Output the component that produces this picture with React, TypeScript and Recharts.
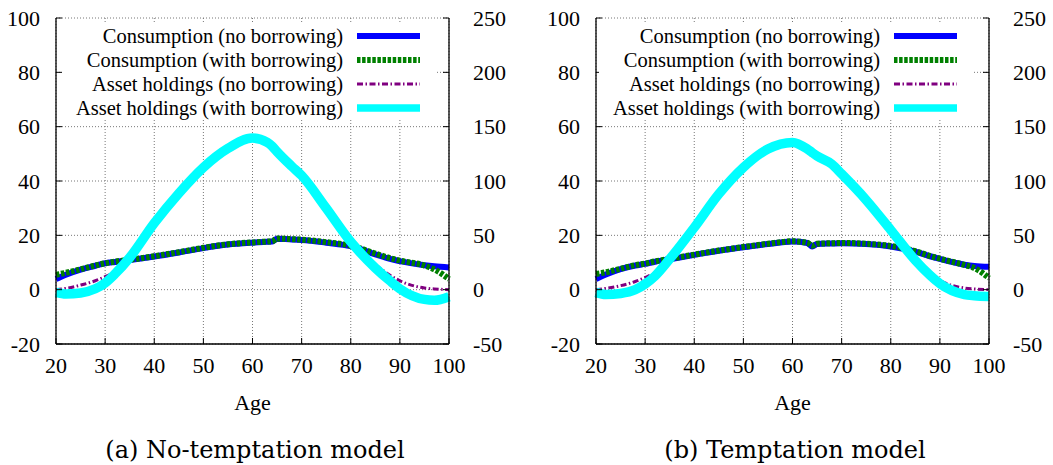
import React from 'react';
import { LineChart, Line, XAxis, YAxis, CartesianGrid, Legend } from 'recharts';

const AGES = [20, 22, 25, 28, 30, 32, 35, 40, 45, 50, 55, 60, 63, 64, 65, 68, 70, 75, 80, 85, 88, 90, 95, 97, 100];

// (a) no-temptation model
const CONS_NO_BORROW_A = [3.9, 5.5, 7.4, 8.8, 9.7, 10.2, 10.9, 12.2, 13.7, 15.3, 16.6, 17.3, 17.6, 17.7, 18.7, 18.5, 18.3, 17.3, 16.0, 13.0, 11.3, 10.5, 9.0, 8.6, 8.2];
const CONS_BORROW_A = [5.5, 6.2, 7.5, 8.9, 9.7, 10.3, 11.0, 12.3, 13.8, 15.4, 16.7, 17.4, 17.7, 17.8, 18.8, 18.6, 18.4, 17.5, 16.2, 13.3, 11.6, 10.7, 8.9, 7.5, 3.9];
const ASSET_NO_BORROW_A = [0, 1.2, 4.2, 8.2, 12, 16.5, 29.5, 61.2, 88.7, 112.5, 130, 139.5, 135.5, 132, 127, 113.5, 105, 75, 44, 23.2, 13.2, 8.2, 1.5, 0.7, 0];
const ASSET_BORROW_A = [-2.5, -4, -3, 0.8, 6.2, 14.5, 29.5, 61.2, 88.7, 112.5, 130, 139.5, 135.5, 132, 127, 113.5, 105, 75, 44, 20, 8, 0.8, -9, -9.8, -6.5];

// (b) temptation model
const CONS_NO_BORROW_B = [3.9, 5.6, 7.6, 8.9, 9.5, 10.3, 11.2, 12.8, 14.3, 15.6, 16.8, 17.7, 17.2, 15.9, 16.8, 17.0, 17.1, 16.8, 15.9, 14.0, 12.3, 11.3, 9.2, 8.7, 8.4];
const CONS_BORROW_B = [5.8, 6.4, 7.7, 9.0, 9.6, 10.4, 11.3, 12.9, 14.4, 15.7, 16.9, 17.8, 17.3, 16.2, 16.9, 17.1, 17.2, 16.9, 16.1, 14.2, 12.4, 11.4, 9.1, 8.0, 4.3];
const ASSET_NO_BORROW_B = [0, 1.2, 3.7, 7.5, 11.2, 15.5, 28.7, 57.2, 88, 112.5, 129.5, 135.5, 129.5, 126.2, 123, 115.5, 106.5, 82.5, 55, 27, 15, 8.7, 1.5, 0.7, 0];
const ASSET_BORROW_B = [-2.5, -4.5, -3.5, 0, 5.2, 12.5, 28.2, 57.2, 88, 112.5, 129.5, 135.5, 129.5, 126.2, 123, 115.5, 106.5, 82.5, 55, 27, 13.2, 5.5, -4.5, -5.5, -6.2];

const X_TICKS = [20, 30, 40, 50, 60, 70, 80, 90, 100];
const LEFT_TICKS = [-20, 0, 20, 40, 60, 80, 100];
const RIGHT_TICKS = [-50, 0, 50, 100, 150, 200, 250];

const SERIES_NAMES = [
  'Consumption (no borrowing)',
  'Consumption (with borrowing)',
  'Asset holdings (no borrowing)',
  'Asset holdings (with borrowing)',
];

const FONT = '"Liberation Serif", "Times New Roman", serif';
const STYLES = [
  { stroke: '#0000ff', width: 6, dash: undefined },
  { stroke: '#008000', width: 6, dash: '3.5 1.6' },
  { stroke: '#800080', width: 3, dash: '6 2.5 1.5 2.5' },
  { stroke: '#00ffff', width: 9.5, dash: undefined },
];

const LegendBox = () => (
  <div style={{ background: '#fff', width: 373, height: 94, position: 'relative', fontFamily: FONT, fontSize: 20.5 }}>
    {SERIES_NAMES.map((name, i) => (
      <div key={name} style={{ position: 'absolute', top: i * 24, left: 0, height: 24, width: 373 }}>
        <span style={{ position: 'absolute', right: 373 - 281, lineHeight: '24px', whiteSpace: 'nowrap', color: '#000' }}>
          {name}
        </span>
        <svg width={64} height={24} style={{ position: 'absolute', left: 295, top: 0 }}>
          <line
            x1={0}
            x2={63}
            y1={12}
            y2={12}
            stroke={STYLES[i].stroke}
            strokeWidth={i === 3 ? 7.5 : STYLES[i].width}
            strokeDasharray={STYLES[i].dash}
          />
        </svg>
      </div>
    ))}
  </div>
);

type PanelProps = {
  left: number;
  legendLeft: number;
  caption: string;
  consNo: number[];
  consWith: number[];
  assetNo: number[];
  assetWith: number[];
};

const Panel = ({ left, legendLeft, caption, consNo, consWith, assetNo, assetWith }: PanelProps) => {
  const data = AGES.map((age, i) => ({
    age,
    consNo: consNo[i],
    consWith: consWith[i],
    assetNo: assetNo[i],
    assetWith: assetWith[i],
  }));
  const tickStyle = { fill: '#000', fontSize: 22, fontFamily: FONT };
  return (
    <div style={{ position: 'absolute', left, top: 0 }}>
      <LineChart width={530} height={420} data={data} margin={{ top: 18, right: 0, bottom: 0, left: 0 }}>
        <CartesianGrid yAxisId="left" stroke="#777" strokeDasharray="1 2" />
        <XAxis
          dataKey="age"
          type="number"
          domain={[20, 100]}
          ticks={X_TICKS}
          interval={0}
          height={76}
          tickSize={-6}
          tickMargin={19}
          tick={tickStyle}
          axisLine={{ stroke: '#000', strokeWidth: 1.3 }}
          tickLine={{ stroke: '#000' }}
          label={{ value: 'Age', position: 'insideBottom', offset: 10, fill: '#000', fontSize: 22, fontFamily: FONT }}
        />
        <XAxis
          xAxisId="top"
          orientation="top"
          dataKey="age"
          type="number"
          domain={[20, 100]}
          ticks={X_TICKS}
          height={0}
          tickSize={-6}
          tick={false}
          axisLine={{ stroke: '#000', strokeWidth: 1.3 }}
          tickLine={{ stroke: '#000' }}
        />
        <YAxis
          yAxisId="left"
          type="number"
          domain={[-20, 100]}
          ticks={LEFT_TICKS}
          interval={0}
          width={56}
          tickSize={-6}
          tickMargin={22}
          tick={tickStyle}
          axisLine={{ stroke: '#000', strokeWidth: 1.3 }}
          tickLine={{ stroke: '#000' }}
        />
        <YAxis
          yAxisId="right"
          orientation="right"
          type="number"
          domain={[-50, 250]}
          ticks={RIGHT_TICKS}
          interval={0}
          width={81}
          tickSize={-6}
          tickMargin={30}
          tick={{ ...tickStyle, textAnchor: 'start' }}
          axisLine={{ stroke: '#000', strokeWidth: 1.3 }}
          tickLine={{ stroke: '#000' }}
        />
        <Line yAxisId="left" dataKey="consNo" type="monotone" stroke={STYLES[0].stroke} strokeWidth={STYLES[0].width} dot={false} activeDot={false} isAnimationActive={false} />
        <Line yAxisId="left" dataKey="consWith" type="monotone" stroke={STYLES[1].stroke} strokeWidth={STYLES[1].width} strokeDasharray={STYLES[1].dash} dot={false} activeDot={false} isAnimationActive={false} />
        <Line yAxisId="right" dataKey="assetNo" type="monotone" stroke={STYLES[2].stroke} strokeWidth={STYLES[2].width} strokeDasharray={STYLES[2].dash} dot={false} activeDot={false} isAnimationActive={false} />
        <Line yAxisId="right" dataKey="assetWith" type="monotone" stroke={STYLES[3].stroke} strokeWidth={STYLES[3].width} dot={false} activeDot={false} isAnimationActive={false} />
        <Legend
          layout="horizontal"
          verticalAlign="middle"
          align="center"
          wrapperStyle={{ position: 'absolute', left: legendLeft, top: 24, width: 373, height: 94 }}
          content={() => <LegendBox />}
        />
      </LineChart>
      <div
        style={{
          position: 'absolute',
          left: 0,
          width: 510,
          top: 438,
          textAlign: 'center',
          fontFamily: '"DejaVu Serif", serif',
          fontSize: 24,
          lineHeight: '24px',
          color: '#000',
          whiteSpace: 'nowrap',
        }}
      >
        {caption}
      </div>
    </div>
  );
};

export default function App() {
  return (
    <div style={{ position: 'absolute', left: 0, top: 0, width: 1053, height: 465, background: '#fff', overflow: 'hidden' }}>
      <Panel
        left={0}
        legendLeft={62}
        caption="(a) No-temptation model"
        consNo={CONS_NO_BORROW_A}
        consWith={CONS_BORROW_A}
        assetNo={ASSET_NO_BORROW_A}
        assetWith={ASSET_BORROW_A}
      />
      <Panel
        left={540}
        legendLeft={59}
        caption="(b) Temptation model"
        consNo={CONS_NO_BORROW_B}
        consWith={CONS_BORROW_B}
        assetNo={ASSET_NO_BORROW_B}
        assetWith={ASSET_BORROW_B}
      />
    </div>
  );
}
